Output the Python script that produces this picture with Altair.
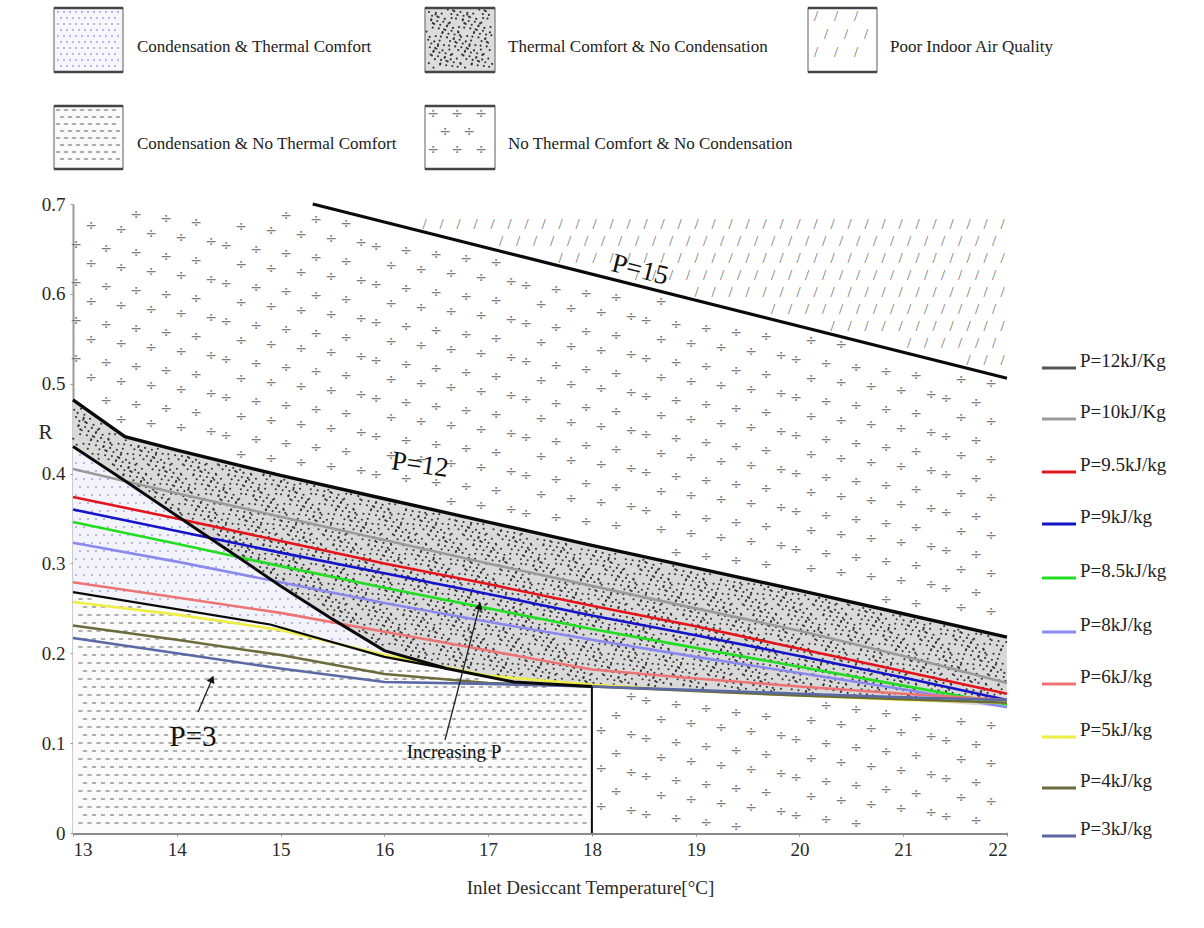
import numpy as np
import pandas as pd
import altair as alt

# ---------------- values ----------------
T = [13, 14, 15, 16, 17, 18, 19, 20, 21, 22]
P10  = [0.405, 0.378, 0.352, 0.326, 0.300, 0.275, 0.250, 0.225, 0.197, 0.167]
P9_5 = [0.374, 0.350, 0.325, 0.300, 0.277, 0.253, 0.230, 0.205, 0.180, 0.155]
P9   = [0.360, 0.336, 0.312, 0.289, 0.266, 0.242, 0.220, 0.197, 0.173, 0.148]
P8_5 = [0.346, 0.322, 0.297, 0.273, 0.250, 0.227, 0.206, 0.185, 0.164, 0.143]
P8   = [0.323, 0.302, 0.279, 0.256, 0.235, 0.215, 0.196, 0.178, 0.160, 0.140]
P6   = [0.279, 0.262, 0.245, 0.224, 0.203, 0.182, 0.172, 0.163, 0.155, 0.148]
P5   = [0.257, 0.243, 0.226, 0.198, 0.175, 0.165, 0.158, 0.153, 0.148, 0.145]
P4   = [0.231, 0.215, 0.198, 0.177, 0.167, 0.163, 0.158, 0.153, 0.149, 0.145]
P3   = [0.217, 0.200, 0.183, 0.168, 0.166, 0.163, 0.159, 0.155, 0.151, 0.148]

P12_T = [13, 13.5, 14, 15, 16, 17, 18, 19, 20, 21, 22]
P12_R = [0.482, 0.441, 0.426, 0.398, 0.372, 0.346, 0.320, 0.295, 0.270, 0.244, 0.218]
P15_T = [15.31, 22]
P15_R = [0.700, 0.506]
COND_T = [13, 13.5, 14, 14.5, 15, 15.5, 16, 16.6, 17.25, 18]
COND_R = [0.430, 0.392, 0.353, 0.314, 0.275, 0.238, 0.203, 0.183, 0.168, 0.163]
COMF_T = [13, 14.9, 16, 16.6]
COMF_R = [0.268, 0.232, 0.196, 0.183]
WALL_T = 18

SERIES = [P10, P9_5, P9, P8_5, P8, P6, P5, P4, P3]
LEG_LABELS = ["P=12kJ/Kg", "P=10kJ/Kg", "P=9.5kJ/kg", "P=9kJ/kg", "P=8.5kJ/kg",
              "P=8kJ/kg", "P=6kJ/kg", "P=5kJ/kg", "P=4kJ/kg", "P=3kJ/kg"]
LEG_COLORS = ["#555555", "#9a9a9a", "#e3141b", "#1414c8", "#22dd22",
              "#8a8aee", "#ee7474", "#eeee44", "#6b6b3b", "#5a69a6"]
REGION_LABELS = ["Condensation & Thermal Comfort", "Thermal Comfort & No Condensation",
                 "Poor Indoor Air Quality", "Condensation & No Thermal Comfort",
                 "No Thermal Comfort & No Condensation"]
X_TICKS = list(range(13, 23))
Y_TICKS = [0, 0.1, 0.2, 0.3, 0.4, 0.5, 0.6, 0.7]

# ---------------- layout (pixels) ----------------
X0, X1, YT, YB = 73, 1007, 204, 833
W, H = X1 - X0, YB - YT
FONT = "Liberation Serif"


def dx(px):
    return 13 + (np.asarray(px, float) - X0) * 9.0 / W


def dy(py):
    return (YB - np.asarray(py, float)) * 0.7 / H


JIT = [0, 2, -1, 3, -2, 1, -3]


def lattice(x0, y0, x1, y1, sx, sy, jitter=0.0, shear=0.0):
    pts = []
    j = 0
    y = y0
    while y <= y1:
        x = x0 + (sx / 2.0 if j % 2 else 0)
        i = 0
        while x <= x1:
            jx = JIT[(i * 3 + j * 5) % 7] * jitter
            jy = JIT[(i * 5 + j * 2) % 7] * jitter
            yy = y + jy + ((i * shear) % sy if shear else 0)
            if yy <= y1:
                pts.append((x + jx, yy))
            x += sx
            i += 1
        y += sy
        j += 1
    a = np.array(pts)
    return dx(a[:, 0]), dy(a[:, 1])


def min_line(x):
    return np.min([np.interp(x, T, s) for s in SERIES], axis=0)


def lower_bound(x):
    return np.where(x < COMF_T[-1], np.interp(x, COMF_T, COMF_R), np.interp(x, COND_T, COND_R))


m = 0.7 / H  # one pixel in R units


def masks(x, y):
    p12 = np.interp(x, P12_T, P12_R)
    p15 = np.interp(x, P15_T, P15_R)
    cond = np.interp(x, COND_T, COND_R)
    low = lower_bound(x)
    mn = min_line(x)
    iaq = (x >= P15_T[0] + 0.05) & (y > p15 + 7 * m) & (y < 0.7 - 3 * m)
    ntc = ((y > p12 + 9 * m) & (y < p15 - 8 * m) & (y < 0.7 - 3 * m)) | \
          ((x > WALL_T + 0.07) & (y < mn - 8 * m) & (y > 5 * m))
    speck = (y < p12 - 3 * m) & (((x < WALL_T) & (y > cond + 3 * m)) | ((x >= WALL_T) & (y > mn + 3 * m)))
    lav = (x < COMF_T[-1]) & (y < cond - 3 * m) & (y > low + 3 * m)
    dash = (x < WALL_T - 0.04) & (x > 13.03) & (y < low - 3 * m) & (y > 3 * m)
    return dict(iaq=iaq, ntc=ntc, speck=speck, lav=lav, dash=dash)


SPEC = {  # lattice spacing per texture (px): sx, sy, jitter, shear
    "ntc": (30, 19, 0.0, 4),
    "iaq": (17, 17, 0.0, 0),
    "speck": (5, 5, 0.9, 0),
    "lav": (8, 8, 0.0, 0),
    "dash": (9, 8, 0.0, 0),
}

tex = {k: [] for k in SPEC}
for k, (sx, sy, jt, sh) in SPEC.items():
    gx, gy = lattice(X0 + 3, YT + 3, X1 - 3, YB - 3, sx, sy, jt, sh)
    mk = masks(gx, gy)[k]
    tex[k].append(pd.DataFrame({"x": gx[mk], "y": gy[mk]}))

BOXES = [(54, 8, 123, 72), (425, 8, 495, 72), (808, 8, 877, 72), (54, 106, 123, 169), (425, 106, 495, 169)]
BOX_KIND = ["lav", "speck", "iaq", "dash", "ntc"]
BOX_SPEC = {"lav": (6, 6, 0), "speck": (4.5, 4.5, 0.8), "iaq": (20, 18, 0), "dash": (8, 7, 0), "ntc": (24, 18, 0)}
for (bx0, by0, bx1, by1), k in zip(BOXES, BOX_KIND):
    sx, sy, jt = BOX_SPEC[k]
    inset = 8 if k in ("iaq", "ntc") else 4
    gx, gy = lattice(bx0 + inset, by0 + inset, bx1 - inset, by1 - inset, sx, sy, jt)
    tex[k].append(pd.DataFrame({"x": gx, "y": gy}))
tex = {k: pd.concat(v, ignore_index=True).round(5) for k, v in tex.items()}

# ---------------- scales / axes ----------------
XS = alt.Scale(domain=[13, 22], nice=False, zero=False)
YS = alt.Scale(domain=[0, 0.7], nice=False, zero=False)
XAX = alt.Axis(values=X_TICKS, format="d", title="Inlet Desiccant Temperature[°C]",
               titleX=517, titleY=54, titleBaseline="middle", titleFont=FONT, titleFontSize=19,
               titleFontWeight="normal", titleColor="#2a2a2a", labelFont=FONT, labelFontSize=19,
               labelColor="#2a2a2a", labelPadding=4, domainColor="#8a8a8a", domainWidth=3,
               tickColor="#8a8a8a", tickSize=3, grid=False)
YAX = alt.Axis(values=Y_TICKS, labelExpr="datum.value == 0 ? '0' : format(datum.value, '.1f')",
               title="R", titleAngle=0, titleX=-28, titleY=228, titleAlign="center",
               titleBaseline="middle", titleFont=FONT, titleFontSize=21, titleFontWeight="normal",
               titleColor="#2a2a2a", labelFont=FONT, labelFontSize=19, labelColor="#2a2a2a",
               labelPadding=5, domainColor="#9a9a9a", domainWidth=2, tickColor="#9a9a9a",
               tickSize=3, grid=False)


def ex(f="x"):
    return alt.X(f, type="quantitative", scale=XS, axis=XAX)


def ey(f="y"):
    return alt.Y(f, type="quantitative", scale=YS, axis=YAX)


# ---------------- region fills ----------------
df_p12 = pd.DataFrame({"x": P12_T, "y": P12_R})
min_t = [t for t in T if t >= WALL_T]
df_min = pd.DataFrame({"x": min_t, "y": min_line(np.array(min_t, float))})
df_cond = pd.DataFrame({"x": COND_T, "y": COND_R})
low_t = COMF_T + [t for t in COND_T if t > COMF_T[-1]]
low_r = COMF_R + [r for t, r in zip(COND_T, COND_R) if t > COMF_T[-1]]
df_low = pd.DataFrame({"x": low_t, "y": low_r})


def area(df, color):
    return alt.Chart(df).mark_area(color=color, opacity=1, line=False).encode(
        x=ex(), y=ey(), y2=alt.datum(0))


fills = [area(df_p12, "#d9d9d9"), area(df_min, "#ffffff"), area(df_cond, "#f3f3fc"), area(df_low, "#fbfbfb")]

# legend boxes
bx = pd.DataFrame({
    "x": dx([b[0] for b in BOXES]), "x2": dx([b[2] for b in BOXES]),
    "y": dy([b[1] for b in BOXES]), "y2": dy([b[3] for b in BOXES]),
})
box_fill = ["#f6f6fd", "#dcdcdc", "#ffffff", "#fafafa", "#ffffff"]
bx["fill"] = box_fill
boxes = alt.Chart(bx).mark_rect(stroke="#777777", strokeWidth=1.2).encode(
    x=ex(), x2="x2:Q", y=ey(), y2="y2:Q", fill=alt.Fill("fill:N", scale=None))
bx_tb = pd.DataFrame({
    "x": np.concatenate([bx.x, bx.x]), "x2": np.concatenate([bx.x2, bx.x2]),
    "y": np.concatenate([bx.y, bx.y2]),
})
box_edges = alt.Chart(bx_tb).mark_rule(color="#444444", strokeWidth=2.5).encode(
    x=ex(), x2="x2:Q", y=ey())

# textures
textures = [
    alt.Chart(tex["ntc"]).mark_text(text="÷", fontSize=14, color="#7c7c7c", font="DejaVu Sans").encode(x=ex(), y=ey()),
    alt.Chart(tex["iaq"]).mark_text(text="/", fontSize=15, color="#6a6a6a", font=FONT).encode(x=ex(), y=ey()),
    alt.Chart(tex["speck"]).mark_circle(size=4.5, color="#333333", opacity=1).encode(x=ex(), y=ey()),
    alt.Chart(tex["lav"]).mark_circle(size=3.5, color="#9c9ce2", opacity=1).encode(x=ex(), y=ey()),
    alt.Chart(tex["dash"]).mark_point(shape="M -1 0 L 1 0", size=18, strokeWidth=1.4,
                                      color="#8f8f8f", opacity=1).encode(x=ex(), y=ey()),
]

# ---------------- curves ----------------
rows = []
for name, col, s in zip(LEG_LABELS[1:], LEG_COLORS[1:], SERIES):
    for t, r in zip(T, s):
        rows.append({"x": t, "y": r, "name": name, "color": col})
df_lines = pd.DataFrame(rows)
colored = alt.Chart(df_lines).mark_line(strokeWidth=2.6).encode(
    x=ex(), y=ey(), detail="name:N", color=alt.Color("color:N", scale=None))

brows = []
for g, (xs, ys, w) in {"p15": (P15_T, P15_R, 3.2), "p12": (P12_T, P12_R, 3.4),
                      "cond": (COND_T, COND_R, 3.0), "comf": (COMF_T, COMF_R, 2.2),
                      "wall": ([WALL_T, WALL_T], [0, COND_R[-1]], 2.0)}.items():
    for k, (xx, yy) in enumerate(zip(xs, ys)):
        brows.append({"x": xx, "y": yy, "g": g, "w": w, "k": k})
black = alt.Chart(pd.DataFrame(brows)).mark_line(color="#0a0a0a").encode(
    x=ex(), y=ey(), detail="g:N", order="k:Q", strokeWidth=alt.StrokeWidth("w:Q", scale=None))

# ---------------- annotations ----------------
ann = pd.DataFrame({
    "t": ["P=15", "P=12", "P=3", "Increasing P"],
    "x": dx([640, 420, 193, 454]), "y": dy([270, 465, 737, 752]),
    "s": [27, 27, 29, 19], "a": [14, 8, 0, 0],
})
ann_txt = alt.Chart(ann).mark_text(font=FONT, color="#111111", baseline="middle", align="center").encode(
    x=ex(), y=ey(), text="t:N", size=alt.Size("s:Q", scale=None), angle=alt.Angle("a:Q", scale=None))

arr = pd.DataFrame({"x": dx([445, 198]), "y": dy([740, 712]), "x2": dx([480, 213]), "y2": dy([604, 677])})
arrows = alt.Chart(arr).mark_rule(color="#222222", strokeWidth=1.3).encode(x=ex(), y=ey(), x2="x2:Q", y2="y2:Q")
heads = pd.DataFrame({"x": dx([479.5, 212]), "y": dy([606, 679]), "a": [14.6, 23.5]})
arrow_heads = alt.Chart(heads).mark_point(shape="triangle-up", filled=True, size=70, color="#111111",
                                          opacity=1).encode(x=ex(), y=ey(), angle=alt.Angle("a:Q", scale=None))

# ---------------- right legend ----------------
LEG_Y = [368, 419, 472, 524, 578, 632, 684, 737, 788, 836]
leg = pd.DataFrame({"x": dx([1042] * 10), "x2": dx([1076] * 10), "y": dy(LEG_Y),
                    "ty": dy([v - 7 for v in LEG_Y]), "tx": dx([1080] * 10),
                    "label": LEG_LABELS, "color": LEG_COLORS})
leg_lines = alt.Chart(leg).mark_rule(strokeWidth=3).encode(
    x=ex(), x2="x2:Q", y=ey(), color=alt.Color("color:N", scale=None))
leg_text = alt.Chart(leg).mark_text(font=FONT, fontSize=19, align="left", baseline="middle",
                                    color="#222222").encode(x=ex("tx"), y=ey("ty"), text="label:N")

# ---------------- top legend labels ----------------
REG_POS = [(137, 47), (508, 47), (890, 47), (137, 144), (508, 144)]
reg = pd.DataFrame({"x": dx([p[0] for p in REG_POS]), "y": dy([p[1] for p in REG_POS]), "label": REGION_LABELS})
reg_text = alt.Chart(reg).mark_text(font=FONT, fontSize=17, align="left", baseline="middle",
                                    color="#222222").encode(x=ex(), y=ey(), text="label:N")

chart = alt.layer(
    *fills, boxes, *textures, box_edges, colored, black, ann_txt, arrows, arrow_heads,
    leg_lines, leg_text, reg_text,
).properties(
    width=W, height=H,
    padding={"left": X0, "top": YT, "right": 1204 - X1, "bottom": 928 - YB},
    autosize=alt.AutoSizeParams(type="none"),
).configure_view(stroke=None)

chart.save("out.html", embed_options={"renderer": "svg", "actions": False})
